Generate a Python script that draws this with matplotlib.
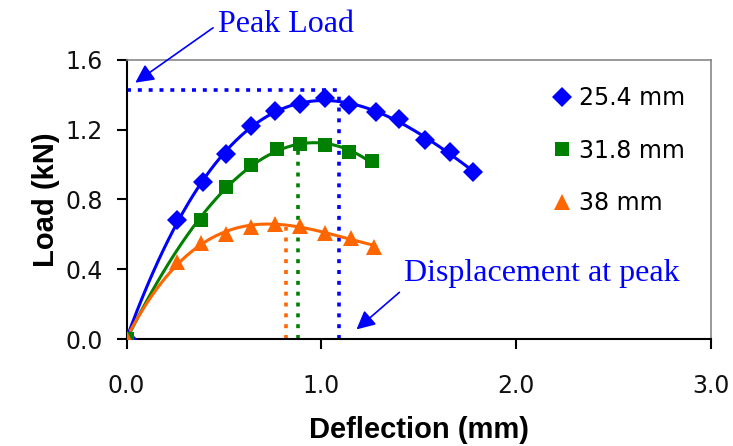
import matplotlib
matplotlib.use("Agg")
import matplotlib.pyplot as plt
import numpy as np

# load-deflection readings for the three specimen sizes
labels = ["25.4 mm", "31.8 mm", "38 mm"]

defl_254 = [0.0, 0.26, 0.39, 0.51, 0.64, 0.76, 0.89, 1.02, 1.14, 1.28, 1.40, 1.53, 1.66, 1.78]
load_254 = [0.0, 0.68, 0.90, 1.06, 1.22, 1.31, 1.35, 1.38, 1.34, 1.30, 1.26, 1.14, 1.07, 0.96]

defl_318 = [0.0, 0.38, 0.51, 0.64, 0.77, 0.89, 1.02, 1.14, 1.26]
load_318 = [0.0, 0.68, 0.87, 1.00, 1.09, 1.12, 1.11, 1.07, 1.02]

defl_38 = [0.0, 0.26, 0.38, 0.51, 0.64, 0.76, 0.89, 1.02, 1.15, 1.27]
load_38 = [0.0, 0.44, 0.55, 0.60, 0.64, 0.66, 0.65, 0.61, 0.58, 0.53]

# peak points marked by the dotted guide lines
peak_deflection = [1.09, 0.88, 0.82]
peak_load = [1.43, 1.12, 0.64]

x_ticks = [0.0, 1.0, 2.0, 3.0]
y_ticks = [0.0, 0.4, 0.8, 1.2, 1.6]

colors = ["#0000ff", "#008000", "#ff6600"]
markers = ["D", "s", "^"]
marker_sizes = [10.5, 10.5, 11]

series = [(defl_254, load_254), (defl_318, load_318), (defl_38, load_38)]

plt.rcParams["font.family"] = ["DejaVu Sans"]

fig = plt.figure(figsize=(7.33, 4.46), dpi=100)
ax = fig.add_axes([0.1726, 0.2399, 0.7977, 0.6256])

# dotted guides from the axes to each peak
dots = (0, (1.1, 1.9))
ax.plot([0, peak_deflection[0]], [peak_load[0], peak_load[0]], color=colors[0],
        linestyle=dots, linewidth=2.6, dash_capstyle="butt", zorder=2)
for px, py, c in zip(peak_deflection, peak_load, colors):
    ax.plot([px, px], [0, py], color=c, linestyle=dots,
            linewidth=2.6, dash_capstyle="butt", zorder=2)

# polynomial trend line plus the measured points
for (x, y), c, m, ms, lab in zip(series, colors, markers, marker_sizes, labels):
    coef = np.polyfit(x, y, 3)
    xs = np.linspace(x[0], x[-1], 200)
    ax.plot(xs, np.polyval(coef, xs), color=c, linewidth=2.2, zorder=3)
    ax.plot(x, y, linestyle="none", marker=m, markersize=ms, color=c,
            markeredgewidth=0, label=lab, zorder=4)

ax.set_xlim(0, 3)
ax.set_ylim(0, 1.6)
ax.set_xticks(x_ticks)
ax.set_xticklabels([f"{v:.1f}" for v in x_ticks])
ax.set_yticks(y_ticks)
ax.set_yticklabels([f"{v:.1f}" for v in y_ticks])
ax.tick_params(direction="out", length=7, width=1.5, color="black",
               labelsize=17, labelcolor="#111111")
ax.tick_params(axis="x", pad=18)
ax.tick_params(axis="y", pad=10)

for side in ["left", "bottom"]:
    ax.spines[side].set_color("black")
    ax.spines[side].set_linewidth(1.5)
for side in ["top", "right"]:
    ax.spines[side].set_color("#888888")
    ax.spines[side].set_linewidth(1.2)

bold = ["Liberation Sans", "DejaVu Sans"]
ax.set_xlabel("Deflection (mm)", fontsize=21, fontweight="bold", family=bold)
ax.set_ylabel("Load (kN)", fontsize=21, fontweight="bold", family=bold)
ax.xaxis.set_label_coords(0.5, -0.275)
ax.yaxis.set_label_coords(-0.113, 0.5)

ax.legend(loc="upper left", bbox_to_anchor=(0.717, 0.94), frameon=False,
          fontsize=17, handlelength=0.6, handletextpad=0.4,
          labelspacing=1.2, borderaxespad=0)

serif = ["Liberation Serif", "DejaVu Serif"]
arrow = dict(arrowstyle="-|>,head_length=0.8,head_width=0.4", color="#0000ff",
             lw=1.2, mutation_scale=14, shrinkA=2, shrinkB=0)
ax.annotate("Peak Load", xy=(0.045, 1.47), xytext=(0.47, 1.805),
            textcoords="data", color="#0000ff", fontsize=23, family=serif,
            ha="left", va="center", annotation_clip=False,
            arrowprops=dict(arrow, relpos=(0, 0.5)))
ax.annotate("Displacement at peak", xy=(1.18, 0.055), xytext=(1.425, 0.375),
            textcoords="data", color="#0000ff", fontsize=23, family=serif,
            ha="left", va="center", annotation_clip=False,
            arrowprops=dict(arrow, relpos=(0, 0)))

fig.savefig("out.png", dpi=100)
